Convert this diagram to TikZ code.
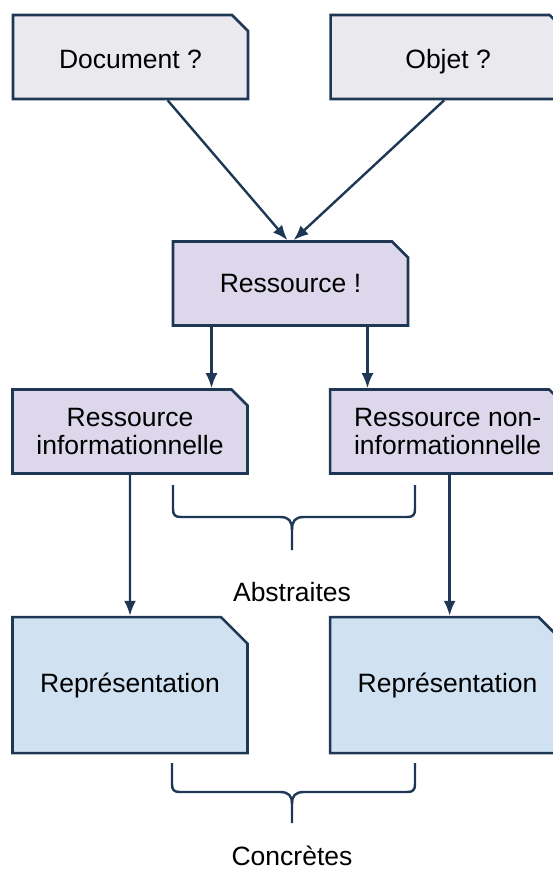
\documentclass[tikz,border=0pt]{standalone}
\usepackage{fontspec}
\setmainfont{Liberation Sans}
\usepackage{xcolor}
\usepackage{tikz}
\usetikzlibrary{shapes,shapes.misc,arrows.meta,positioning,calc}

\definecolor{edge}{RGB}{30,55,85}
\definecolor{qfill}{RGB}{234,234,238}
\definecolor{rfill}{RGB}{221,215,236}
\definecolor{pfill}{RGB}{208,225,242}

\begin{document}
\begin{tikzpicture}[x=1pt, y=-1pt, >={Latex[length=15pt,width=12pt]}]
    \tikzstyle{card} = [chamfered rectangle, chamfered rectangle corners=north east,
        chamfered rectangle xsep=8pt, chamfered rectangle ysep=8pt,
        draw=edge, line width=2.6pt, inner sep=0pt, minimum width=235pt, minimum height=84pt,
        align=center, font=\fontsize{26.5}{27.5}\selectfont]
    \tikzstyle{query} = [card, fill=qfill, text height=22pt, text depth=0pt]
    \tikzstyle{res} = [card, fill=rfill]
    \tikzstyle{repr} = [card, fill=pfill, minimum height=136pt,
        chamfered rectangle xsep=14pt, chamfered rectangle ysep=14pt]
    \tikzstyle{arrow} = [draw=edge, ->, line width=2.4pt]
    \tikzstyle{brace} = [draw=edge, line width=2.4pt]
    \tikzstyle{caption} = [anchor=base, font=\fontsize{26.5}{27.5}\selectfont]

    \useasboundingbox (0,0) rectangle (552,870);

    \node [query] (doc) at (130.5,57) {Document ?};
    \node [query, right=80pt of doc] (obj) {Objet ?};
    \node [res] (ress) at (290.5,283.5) {Ressource !};
    \node [res] (info) at (130,431.5) {Ressource\\informationnelle};
    \node [res, right=80pt of info] (noninfo) {Ressource non-\\informationnelle};
    \node [repr, below=141pt of info] (rep1) {Représentation};
    \node [repr, right=80pt of rep1] (rep2) {Représentation};

    \draw [arrow] (doc) -- ([xshift=-3pt]ress.north);
    \draw [arrow] ([xshift=-4pt]obj.south) -- ([xshift=3pt]ress.north);
    \draw [arrow] ([xshift=-79pt]ress.south) -- ([xshift=-79pt]ress.south |- info.north);
    \draw [arrow] ([xshift=77pt]ress.south) -- ([xshift=77pt]ress.south |- noninfo.north);
    \draw [arrow] (info) -- (rep1);
    \draw [arrow] ([xshift=2pt]noninfo.south) -- ([xshift=2pt]noninfo.south |- rep2.north);

    % accolades
    \coordinate (abs) at (292,550);
    \draw [brace] (173,485) -- (173,509) .. controls (173,515) and (175,517) .. (181,517)
        -- (280,517) .. controls (289,517) and (292,521) .. (292,530) -- (abs);
    \draw [brace] (415,485) -- (415,509) .. controls (415,515) and (413,517) .. (407,517)
        -- (304,517) .. controls (295,517) and (292,521) .. (292,530);
    \node [caption] (abstr) at (292,601) {Abstraites};

    \coordinate (conc) at (292,823);
    \draw [brace] (172,763) -- (172,784) .. controls (172,790) and (174,792) .. (180,792)
        -- (280,792) .. controls (289,792) and (292,796) .. (292,804) -- (conc);
    \draw [brace] (415,763) -- (415,784) .. controls (415,790) and (413,792) .. (407,792)
        -- (304,792) .. controls (295,792) and (292,796) .. (292,804);
    \node [caption] (concr) at (292,865) {Concrètes};
\end{tikzpicture}
\end{document}
